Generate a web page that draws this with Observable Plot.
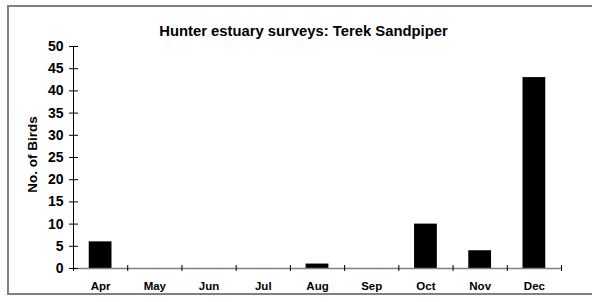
<!DOCTYPE html>
<html>
<head>
<meta charset="utf-8">
<script src="https://cdn.jsdelivr.net/npm/d3@7"></script>
<script src="https://cdn.jsdelivr.net/npm/@observablehq/plot@0.6"></script>
<style>
  html, body { margin: 0; padding: 0; background: #fff; }
  #wrap { position: relative; width: 592px; height: 302px; overflow: hidden; }
  #border { position: absolute; left: 7px; top: 5px; width: 600px; height: 286px; border: 2px solid #808080; box-sizing: content-box; pointer-events: none; }
  svg { font-family: "Liberation Sans", Arial, sans-serif; font-weight: bold; }
</style>
</head>
<body>
<div id="wrap"><div id="border"></div></div>
<script>
const title = "Hunter estuary surveys: Terek Sandpiper";
const yLabel = "No. of Birds";
const months = ["Apr", "May", "Jun", "Jul", "Aug", "Sep", "Oct", "Nov", "Dec"];
const counts = [6, 0, 0, 0, 1, 0, 10, 4, 43];
const yTicks = [0, 5, 10, 15, 20, 25, 30, 35, 40, 45, 50];

const data = months.map((m, i) => ({i, month: m, count: counts[i]}));
const halfBar = 0.21;

const chart = Plot.plot({
  width: 592,
  height: 302,
  marginLeft: 73,
  marginRight: 31,
  marginTop: 46,
  marginBottom: 34,
  style: {background: "transparent", color: "black"},
  x: {type: "linear", domain: [0, months.length], axis: null},
  y: {domain: [0, 50], axis: null},
  marks: [
    Plot.rectY(data.filter(d => d.count > 0), {
      x1: d => d.i + 0.5 - halfBar,
      x2: d => d.i + 0.5 + halfBar,
      y1: 0,
      y2: "count",
      fill: "black"
    }),
    Plot.ruleY([0], {stroke: "#808080", strokeWidth: 1.5}),
    Plot.axisX({
      ticks: d3.range(0, months.length + 1),
      tickSize: 6, dy: -3, tickFormat: () => "", stroke: "black"
    }),
    Plot.axisX({
      ticks: months.map((_, i) => i + 0.5),
      tickFormat: d => months[Math.floor(d)],
      tickSize: 0, tickPadding: 13, fontSize: 11.5, fontWeight: "bold"
    }),
    Plot.ruleX([0], {stroke: "black", strokeWidth: 1}),
    Plot.axisY({
      ticks: yTicks, tickSize: 9, dx: 5, tickPadding: 6,
      fontSize: 14, fontWeight: "bold", label: null
    }),
    Plot.text([yLabel], {
      frameAnchor: "left", textAnchor: "middle", rotate: -90, dx: -40.5, dy: -3,
      fontSize: 13.5, fontWeight: "bold", fill: "black"
    }),
    Plot.text([title], {
      frameAnchor: "top", lineAnchor: "bottom", dx: -14, dy: -11,
      fontSize: 14.8, fontWeight: "bold", fill: "black"
    })
  ]
});
document.getElementById("wrap").prepend(chart);
</script>
</body>
</html>
